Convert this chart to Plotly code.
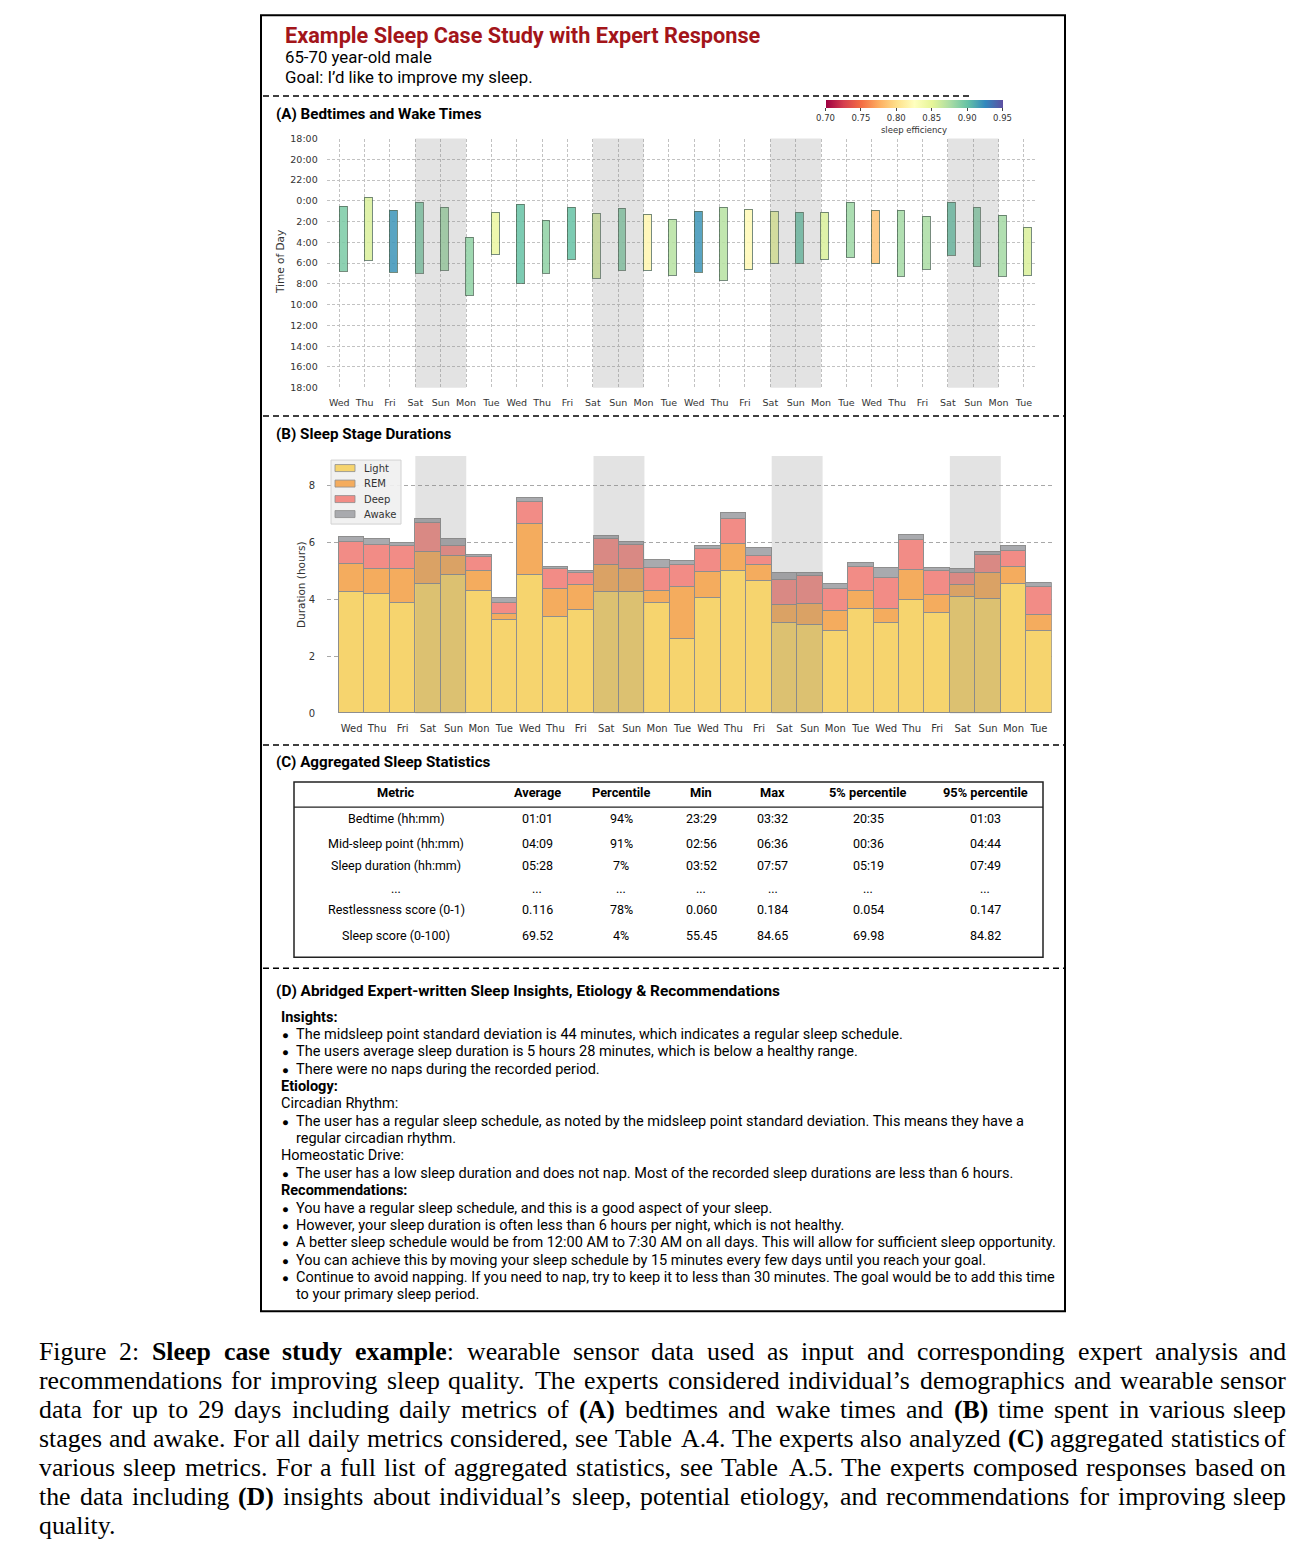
import plotly.graph_objects as go

# ---------------- data ----------------
days = ["Wed", "Thu", "Fri", "Sat", "Sun", "Mon", "Tue",
        "Wed", "Thu", "Fri", "Sat", "Sun", "Mon", "Tue",
        "Wed", "Thu", "Fri", "Sat", "Sun", "Mon", "Tue",
        "Wed", "Thu", "Fri", "Sat", "Sun", "Mon", "Tue"]

# hours relative to midnight (negative = evening before)
bedtime = [0.55, -0.32, 0.94, 0.16, 0.65, 3.55, 1.13, 0.35, 1.87, 0.65, 1.26, 0.74, 1.32, 1.81,
           1.03, 0.65, 0.81, 1.03, 1.13, 1.13, 0.16, 0.94, 0.94, 1.52, 0.16, 0.68, 1.42, 2.58]
waketime = [6.84, 5.77, 6.94, 7.03, 6.74, 9.16, 5.19, 8.00, 7.03, 5.68, 7.52, 6.74, 6.74, 7.23,
            6.94, 7.71, 6.65, 6.00, 6.06, 5.68, 5.48, 6.06, 7.26, 6.65, 5.29, 6.35, 7.32, 7.23]
efficiency = [0.8925, 0.855, 0.92, 0.8925, 0.88, 0.885, 0.845, 0.90, 0.885, 0.90, 0.8575, 0.89, 0.8175, 0.87,
              0.92, 0.87, 0.82, 0.85, 0.90, 0.855, 0.88, 0.785, 0.8775, 0.875, 0.90, 0.89, 0.8775, 0.855]

time_tickvals = [-6, -4, -2, 0, 2, 4, 6, 8, 10, 12, 14, 16, 18]
time_ticktext = ["18:00", "20:00", "22:00", "0:00", "2:00", "4:00", "6:00", "8:00",
                 "10:00", "12:00", "14:00", "16:00", "18:00"]
eff_ticks = [0.70, 0.75, 0.80, 0.85, 0.90, 0.95]
eff_ticktext = ["0.70", "0.75", "0.80", "0.85", "0.90", "0.95"]

light = [4.25, 4.21, 3.89, 4.56, 4.86, 4.30, 3.27, 4.86, 3.38, 3.62, 4.28, 4.25, 3.89, 2.60,
         4.05, 5.01, 4.65, 3.16, 3.09, 2.89, 3.67, 3.19, 3.98, 3.54, 4.09, 4.01, 4.54, 2.89]
rem = [1.01, 0.87, 1.18, 1.13, 0.66, 0.69, 0.21, 1.80, 0.98, 0.88, 0.94, 0.82, 0.43, 1.85,
       0.91, 0.96, 0.55, 0.64, 0.75, 0.72, 0.64, 0.47, 1.06, 0.62, 0.43, 0.91, 0.60, 0.58]
deep = [0.78, 0.83, 0.82, 1.00, 0.35, 0.50, 0.39, 0.79, 0.70, 0.45, 0.90, 0.84, 0.78, 0.76,
        0.81, 0.86, 0.33, 0.89, 0.99, 0.78, 0.84, 1.09, 1.04, 0.84, 0.42, 0.65, 0.58, 0.99]
awake = [0.15, 0.21, 0.09, 0.16, 0.25, 0.07, 0.18, 0.13, 0.08, 0.07, 0.11, 0.11, 0.28, 0.15,
         0.10, 0.21, 0.28, 0.26, 0.09, 0.16, 0.15, 0.35, 0.18, 0.11, 0.13, 0.10, 0.15, 0.14]
duration_ticks = [0, 2, 4, 6, 8]

weekend_starts = [3, 10, 17, 24]   # Sat indices

table_header = ["Metric", "Average", "Percentile", "Min", "Max", "5% percentile", "95% percentile"]
metric_names = ["Bedtime (hh:mm)", "Mid-sleep point (hh:mm)", "Sleep duration (hh:mm)", "...",
                "Restlessness score (0-1)", "Sleep score (0-100)"]
avg_vals = ["01:01", "04:09", "05:28", "...", "0.116", "69.52"]
pct_vals = ["94%", "91%", "7%", "...", "78%", "4%"]
min_vals = ["23:29", "02:56", "03:52", "...", "0.060", "55.45"]
max_vals = ["03:32", "06:36", "07:57", "...", "0.184", "84.65"]
p5_vals = ["20:35", "00:36", "05:19", "...", "0.054", "69.98"]
p95_vals = ["01:03", "04:44", "07:49", "...", "0.147", "84.82"]

insight_lines = [
    ("head", "Insights:"),
    ("bullet", "The midsleep point standard deviation is 44 minutes, which indicates a regular sleep schedule."),
    ("bullet", "The users average sleep duration is 5 hours 28 minutes, which is below a healthy range."),
    ("bullet", "There were no naps during the recorded period."),
    ("head", "Etiology:"),
    ("plain", "Circadian Rhythm:"),
    ("bullet", "The user has a regular sleep schedule, as noted by the midsleep point standard deviation. This means they have a"),
    ("cont", "regular circadian rhythm."),
    ("plain", "Homeostatic Drive:"),
    ("bullet", "The user has a low sleep duration and does not nap. Most of the recorded sleep durations are less than 6 hours."),
    ("head", "Recommendations:"),
    ("bullet", "You have a regular sleep schedule, and this is a good aspect of your sleep."),
    ("bullet", "However, your sleep duration is often less than 6 hours per night, which is not healthy."),
    ("bullet", "A better sleep schedule would be from 12:00 AM to 7:30 AM on all days. This will allow for sufficient sleep opportunity."),
    ("bullet", "You can achieve this by moving your sleep schedule by 15 minutes every few days until you reach your goal."),
    ("bullet", "Continue to avoid napping. If you need to nap, try to keep it to less than 30 minutes. The goal would be to add this time"),
    ("cont", "to your primary sleep period."),
]

caption_lines = [
    "Figure 2: <b>Sleep case study example</b>: wearable sensor data used as input and corresponding expert analysis and",
    "recommendations for improving sleep quality. The experts considered individual’s demographics and wearable sensor",
    "data for up to 29 days including daily metrics of <b>(A)</b> bedtimes and wake times and <b>(B)</b> time spent in various sleep",
    "stages and awake. For all daily metrics considered, see Table A.4. The experts also analyzed <b>(C)</b> aggregated statistics of",
    "various sleep metrics. For a full list of aggregated statistics, see Table A.5. The experts composed responses based on",
    "the data including <b>(D)</b> insights about individual’s sleep, potential etiology, and recommendations for improving sleep",
    "quality.",
]

# ---------------- geometry helpers ----------------
W, H = 1292, 1536
OX, OY, KY = 8, 14, 0.9927


def X(p):
    return (p - OX) / W


def Y(p):
    return 1 - ((p - OY) / KY) / H


SANS = "Roboto, 'Noto Sans', sans-serif"
MPL = "'DejaVu Sans', sans-serif"
SERIF = "'Liberation Serif', 'Times New Roman', serif"
spectral = ['#9e0142', '#d53e4f', '#f46d43', '#fdae61', '#fee08b', '#ffffbf',
            '#e6f598', '#abdda4', '#66c2a5', '#3288bd', '#5e4fa2']

fig = go.Figure()

# ---------------- Panel A ----------------
idx = list(range(len(days)))
fig.add_trace(go.Bar(
    x=idx, y=[w - b for b, w in zip(bedtime, waketime)], base=bedtime,
    width=0.31, offset=0, xaxis="x", yaxis="y", showlegend=False,
    marker=dict(color=efficiency, colorscale=spectral, cmin=0.70, cmax=0.95,
                opacity=0.85, line=dict(color="rgba(55,85,65,0.8)", width=1),
                showscale=True,
                colorbar=dict(orientation="h", x=X(914), xanchor="center",
                              y=Y(99.7), yanchor="top", len=177, lenmode="pixels",
                              thickness=8, thicknessmode="pixels", xpad=0, ypad=0,
                              outlinewidth=0, tickvals=eff_ticks, ticktext=eff_ticktext,
                              ticks="outside", ticklen=3, tickwidth=1, tickcolor="#444",
                              tickfont=dict(family=MPL, size=8.5, color="#333"),
                              title=dict(text="sleep efficiency", side="bottom",
                                         font=dict(family=MPL, size=8.5, color="#333")))),
))

# ---------------- Panel B ----------------
stage_names = ["Light", "REM", "Deep", "Awake"]
stage_vals = [light, rem, deep, awake]
stage_cols = ["#f6d46e", "#f4ac5e", "#f28c86", "#a9aaae"]
for nm, vals, col in zip(stage_names, stage_vals, stage_cols):
    fig.add_trace(go.Bar(x=idx, y=vals, name=nm, width=1.0, xaxis="x2", yaxis="y2", showlegend=False,
                         marker=dict(color=col, line=dict(color="#8e8e8e", width=1))))

shapes = []
annotations = []


def ann(text, x, y, size, family=SANS, color="black", xanchor="left", angle=0):
    annotations.append(dict(text=text, x=X(x), y=Y(y), xref="paper", yref="paper",
                            xanchor=xanchor, yanchor="middle", showarrow=False, textangle=angle,
                            font=dict(family=family, size=size, color=color)))


# weekend shading
for s in weekend_starts:
    shapes.append(dict(type="rect", xref="x", yref="y domain", x0=s, x1=s + 2, y0=0, y1=1,
                       fillcolor="rgba(128,128,128,0.22)", line=dict(width=0), layer="above"))
    shapes.append(dict(type="rect", xref="x2", yref="y2 domain", x0=s - 0.5, x1=s + 1.5, y0=0, y1=1,
                       fillcolor="rgba(128,128,128,0.22)", line=dict(width=0), layer="above"))

# manual legend for panel B
shapes.append(dict(type="rect", xref="paper", yref="paper", x0=X(331), x1=X(401), y0=Y(524), y1=Y(460),
                   fillcolor="rgba(240,240,240,0.92)", line=dict(color="#d2d2d2", width=1), layer="above"))
leg_y = [468, 483.5, 499, 514]
for nm, col, ly in zip(stage_names, stage_cols, leg_y):
    shapes.append(dict(type="rect", xref="paper", yref="paper", x0=X(335), x1=X(355),
                       y0=Y(ly + 3.5), y1=Y(ly - 3.5), fillcolor=col,
                       line=dict(color="#8e8e8e", width=0.8), layer="above"))
    ann(nm, 362, ly, 10, family=MPL, color="#333")

# outer box
shapes.append(dict(type="rect", xref="paper", yref="paper", x0=X(261), x1=X(1065), y0=Y(1311), y1=Y(15.2),
                   line=dict(color="black", width=2)))
# dashed separators
dash = dict(color="black", width=1.5, dash="6px,4px")
shapes.append(dict(type="line", xref="paper", yref="paper", x0=X(263), x1=X(972), y0=Y(96), y1=Y(96), line=dash))
for yy in [416, 745, 968]:
    shapes.append(dict(type="line", xref="paper", yref="paper", x0=X(263), x1=X(1064), y0=Y(yy), y1=Y(yy), line=dash))
# table box and header rule
shapes.append(dict(type="rect", xref="paper", yref="paper", x0=X(294), x1=X(1043), y0=Y(957), y1=Y(782),
                   line=dict(color="#222", width=1.5)))
shapes.append(dict(type="line", xref="paper", yref="paper", x0=X(294), x1=X(1043), y0=Y(807), y1=Y(807),
                   line=dict(color="#222", width=1.2)))

# header
ann("<b>Example Sleep Case Study with Expert Response</b>", 283, 35, 21.7, color="#a3151a")
ann("65-70 year-old male", 283, 57, 16.8)
ann("Goal: I’d like to improve my sleep.", 283, 77, 16.8)
ann("<b>(A) Bedtimes and Wake Times</b>", 274, 114, 15.2)
ann("<b>(B) Sleep Stage Durations</b>", 274, 434, 15.2)
ann("<b>(C) Aggregated Sleep Statistics</b>", 274, 762, 15.2)
ann("<b>(D) Abridged Expert-written Sleep Insights, Etiology &amp; Recommendations</b>", 274, 991, 15.4)

# axis titles
ann("Time of Day", 280, 262, 10.5, family=MPL, color="#333", xanchor="center", angle=-90)
ann("Duration (hours)", 301, 585, 10.5, family=MPL, color="#333", xanchor="center", angle=-90)

# table
col_x = [396, 537, 621, 701, 773, 868, 985]
row_y = [818, 843, 865, 888, 909, 935]
for cx, h in zip(col_x, table_header):
    ann("<b>" + h + "</b>", cx, 792, 12.8, xanchor="center")
columns = [metric_names, avg_vals, pct_vals, min_vals, max_vals, p5_vals, p95_vals]
for cx, col in zip(col_x, columns):
    for ry, v in zip(row_y, col):
        ann(v, cx, ry, 12.5, xanchor="center")

# insights text
y0 = 1017
for i, (kind, txt) in enumerate(insight_lines):
    yy = y0 + i * 17.35
    if kind == "head":
        ann("<b>" + txt + "</b>", 279, yy, 14.5)
    elif kind == "plain":
        ann(txt, 279, yy, 14.5)
    elif kind == "bullet":
        ann("●", 280, yy + 0.5, 11.5)
        ann(txt, 294, yy, 14.5)
    else:
        ann(txt, 294, yy, 14.5)

# caption: justified by placing words (Times metrics, units per 1000 em)
REG = {' ': 250, '(': 333, ')': 333, ',': 250, '.': 250, ':': 278, '’': 333, '-': 333,
       'A': 722, 'B': 667, 'C': 667, 'D': 722, 'F': 556, 'S': 556, 'T': 611,
       'a': 444, 'b': 500, 'c': 444, 'd': 500, 'e': 444, 'f': 333, 'g': 500, 'h': 500, 'i': 278,
       'j': 278, 'k': 500, 'l': 278, 'm': 778, 'n': 500, 'o': 500, 'p': 500, 'q': 500, 'r': 333,
       's': 389, 't': 278, 'u': 500, 'v': 500, 'w': 722, 'x': 500, 'y': 500, 'z': 444}
BOLD = {' ': 250, '(': 333, ')': 333, 'A': 722, 'B': 667, 'C': 722, 'D': 722, 'S': 556,
        'a': 500, 'c': 444, 'd': 556, 'e': 444, 'l': 278, 'm': 833, 'p': 556, 's': 389,
        't': 333, 'u': 556, 'x': 500, 'y': 500}
CAP_FS = 25.8
CAP_L, CAP_R = 38, 1287


def parse_words(line):
    chars, bold, i = [], False, 0
    while i < len(line):
        if line.startswith("<b>", i):
            bold, i = True, i + 3
        elif line.startswith("</b>", i):
            bold, i = False, i + 4
        else:
            chars.append((line[i], bold))
            i += 1
    words, cur = [], []
    for c, b in chars:
        if c == ' ':
            if cur:
                words.append(cur)
            cur = []
        else:
            cur.append((c, b))
    if cur:
        words.append(cur)
    return words


def word_markup(word):
    out, cur_b = "", False
    for c, b in word:
        if b and not cur_b:
            out += "<b>"
        if not b and cur_b:
            out += "</b>"
        out += c
        cur_b = b
    if cur_b:
        out += "</b>"
    return out


def word_width(word):
    return sum((BOLD.get(c, REG.get(c, 500)) if b else REG.get(c, 500)) for c, b in word) * CAP_FS / 1000


for li, line in enumerate(caption_lines):
    yy = 1351 + li * 29
    words = parse_words(line)
    widths = [word_width(w) for w in words]
    last = li == len(caption_lines) - 1
    if last or len(words) < 2:
        gap = 250 * CAP_FS / 1000
    else:
        gap = (CAP_R - CAP_L - sum(widths)) / (len(words) - 1)
    xpos = CAP_L
    for wi, (wd, ww) in enumerate(zip(words, widths)):
        right = (not last) and wi == len(words) - 1
        annotations.append(dict(text=word_markup(wd), x=X(CAP_R if right else xpos), y=Y(yy),
                                xref="paper", yref="paper", xanchor="right" if right else "left",
                                yanchor="middle", showarrow=False, borderpad=0,
                                font=dict(family=SERIF, size=CAP_FS, color="black")))
        xpos += ww + gap

# ---------------- layout ----------------
fig.update_layout(
    width=W, height=H, margin=dict(l=0, r=0, t=0, b=0),
    paper_bgcolor="white", plot_bgcolor="white",
    barmode="stack", bargap=0,
    shapes=shapes, annotations=annotations,
    showlegend=False,
    xaxis=dict(domain=[X(326.6), X(1036.6)], range=[-0.5, 27.5], anchor="y",
               tickvals=idx, ticktext=days, showgrid=True, gridcolor="#c2c2c2", griddash="3px,2px",
               gridwidth=0.8, zeroline=False, showline=False, ticks="outside", ticklen=6,
               tickcolor="rgba(0,0,0,0)", tickfont=dict(family=MPL, size=9.5, color="#333")),
    yaxis=dict(domain=[Y(387.7), Y(138.5)], range=[18, -6], anchor="x",
               tickvals=time_tickvals, ticktext=time_ticktext, showgrid=True, gridcolor="#c2c2c2",
               griddash="3px,2px", gridwidth=0.8, zeroline=False, showline=False, ticks="outside",
               ticklen=6, tickcolor="rgba(0,0,0,0)", tickfont=dict(family=MPL, size=9.5, color="#333")),
    xaxis2=dict(domain=[X(327), X(1051.7)], range=[-0.97, 27.5], anchor="y2",
                tickvals=idx, ticktext=days, showgrid=False, zeroline=False, showline=False,
                ticks="outside", ticklen=6, tickcolor="rgba(0,0,0,0)",
                tickfont=dict(family=MPL, size=10, color="#333")),
    yaxis2=dict(domain=[Y(713.3), Y(456)], range=[0, 9.05], anchor="x2",
                tickvals=duration_ticks, showgrid=True, gridcolor="#a8a8a8", griddash="4px,3px",
                gridwidth=1, zeroline=False, showline=False, ticks="outside", ticklen=9,
                tickcolor="rgba(0,0,0,0)", tickfont=dict(family=MPL, size=10, color="#333")),
)

fig.write_html("out.html")
